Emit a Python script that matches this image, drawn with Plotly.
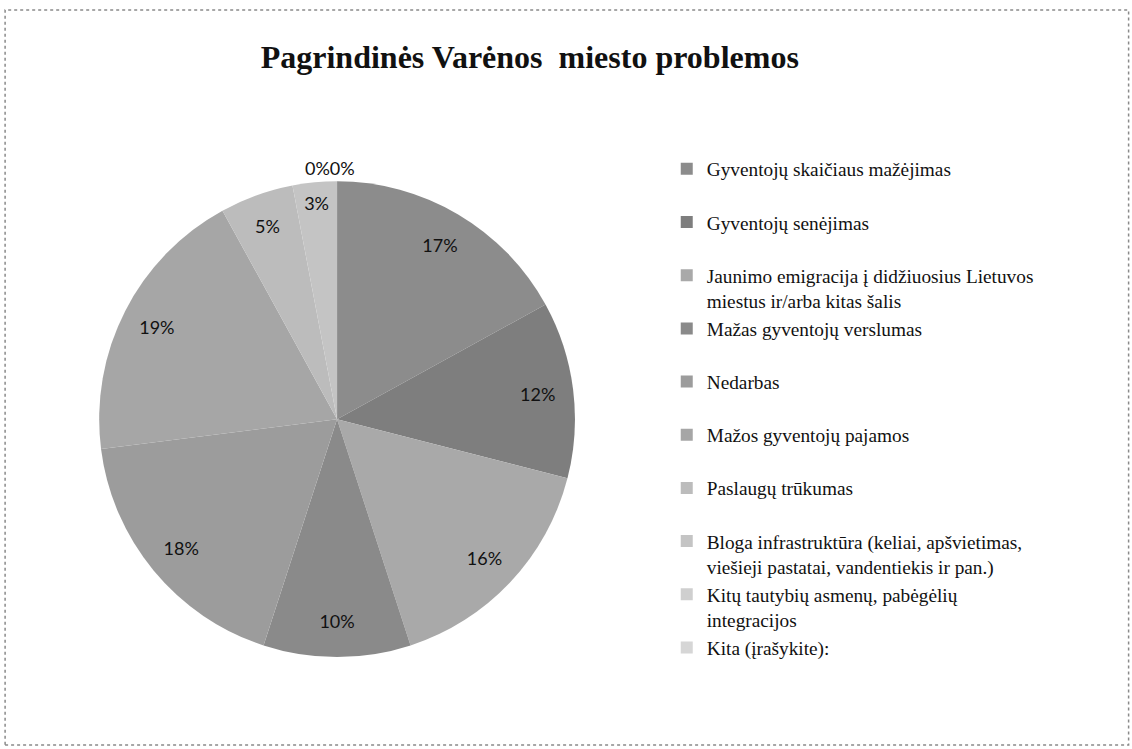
import plotly.graph_objects as go

# Pagrindinės Varėnos miesto problemos - atsakymų pasiskirstymas (%)
problemos = [
    "Gyventojų skaičiaus mažėjimas",
    "Gyventojų senėjimas",
    "Jaunimo emigracija į didžiuosius Lietuvos<br>miestus ir/arba kitas šalis",
    "Mažas gyventojų verslumas",
    "Nedarbas",
    "Mažos gyventojų pajamos",
    "Paslaugų trūkumas",
    "Bloga infrastruktūra (keliai, apšvietimas,<br>viešieji pastatai, vandentiekis ir pan.)",
    "Kitų tautybių asmenų, pabėgėlių<br>integracijos",
    "Kita (įrašykite):",
]
procentai = [17, 12, 16, 10, 18, 19, 5, 3, 0, 0]

spalvos = ["#8c8c8c", "#7e7e7e", "#a9a9a9", "#8a8a8a", "#9c9c9c",
           "#a6a6a6", "#bcbcbc", "#c4c4c4", "#cfcfcf", "#d6d6d6"]

# kad visi legendos įrašai užimtų vienodą aukštį
legend_labels = [p if "<br>" in p else p + "<br> " for p in problemos]
# nuliniai sektoriai nepiešiami, jų etiketės dedamos atskirai
zero_labels = "".join("0%" for v in procentai if v == 0)

pie_domain = dict(x=[0.0875, 0.508], y=[0.1228, 0.758])
label_font = dict(family="Lato, Open Sans, sans-serif", size=18, color="#111111")

fig = go.Figure()
# pagrindinis skritulys
fig.add_trace(go.Pie(
    labels=legend_labels,
    values=procentai,
    sort=False,
    direction="clockwise",
    rotation=0,
    marker=dict(colors=spalvos, line=dict(width=0)),
    textinfo="none",
    domain=pie_domain,
    hoverinfo="label+percent",
))
# permatomas žiedas - tik procentų etiketėms prie krašto
fig.add_trace(go.Pie(
    labels=legend_labels,
    values=procentai,
    sort=False,
    direction="clockwise",
    rotation=0,
    hole=0.7,
    marker=dict(colors=["rgba(0,0,0,0)"] * len(procentai), line=dict(width=0)),
    texttemplate=["%{percent}" if v else "" for v in procentai],
    textposition="inside",
    insidetextorientation="horizontal",
    textfont=label_font,
    domain=pie_domain,
    showlegend=False,
    hoverinfo="skip",
))

fig.update_layout(
    width=1132,
    height=749,
    margin=dict(l=0, r=0, t=0, b=0),
    paper_bgcolor="white",
    plot_bgcolor="white",
    title=dict(
        text="<b>Pagrindinės Varėnos  miesto problemos</b>",
        x=0.468, xanchor="center", y=0.924, yanchor="middle",
        font=dict(family="Liberation Serif, Times New Roman, serif", size=32, color="#111111"),
    ),
    legend=dict(
        x=0.589, xanchor="left", y=0.8, yanchor="top",
        font=dict(family="Liberation Serif, Times New Roman, serif", size=19.3, color="#111111"),
        valign="top",
        bgcolor="rgba(0,0,0,0)",
        itemclick=False,
    ),
    uniformtext=dict(minsize=18, mode="show"),
    shapes=[dict(
        type="rect", xref="paper", yref="paper",
        x0=0.0045, x1=0.997, y0=0.0053, y1=0.9867,
        line=dict(color="#8a8a8a", width=1.5, dash="dot"),
    )],
    annotations=[dict(
        text=zero_labels, xref="paper", yref="paper", x=0.2915, y=0.776,
        xanchor="center", yanchor="middle", showarrow=False,
        font=label_font,
    )],
)

fig.write_html(
    "out.html",
    config={"displayModeBar": False},
    post_script="document.body.style.margin='0';",
)
